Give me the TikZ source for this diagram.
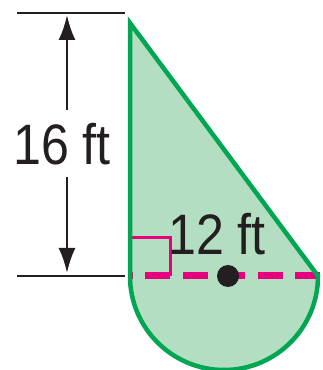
\documentclass[tikz,border=0pt]{standalone}
\usepackage{fontspec}
\setmainfont{Liberation Sans}
\usetikzlibrary{arrows.meta}
\definecolor{shapegreen}{RGB}{0,166,81}
\definecolor{shapefill}{RGB}{179,222,193}
\definecolor{markmag}{RGB}{230,0,126}
\definecolor{inkblack}{RGB}{35,31,32}
\begin{document}
\begin{tikzpicture}[x=1pt,y=1pt,
  dimline/.style={draw=inkblack,line width=2.5pt},
  dimarrow/.style={draw=inkblack,line width=2.5pt,-{Latex[length=25pt,width=17pt]}},
  lbl/.style={inner sep=0pt,anchor=base,text=inkblack,font=\fontsize{57}{57}\selectfont,xscale=0.88},
  outline/.style={draw=shapegreen,line width=4.5pt,line join=miter},
  rightmark/.style={draw=markmag,line width=3pt},
  dashline/.style={draw=markmag,line width=7pt,dash pattern=on 25pt off 12.5pt}
]
\useasboundingbox (0,0) rectangle (322,370);
% key points
\coordinate (apex) at (130,347);
\coordinate (baseL) at (130,94);
\coordinate (baseR) at (318,94);
\coordinate (ctr) at (224,94);
% filled shape
\fill[shapefill] (baseL) -- (apex) -- (baseR) arc[start angle=0,end angle=-180,radius=94] -- cycle;
% right-angle marker
\coordinate (ra1) at (131,132);
\coordinate (ra2) at (170,132);
\coordinate (ra3) at (170,94);
\draw[rightmark] (ra1) -- (ra2) -- (ra3);
% dashed diameter
\coordinate (dashR) at (320,94);
\coordinate (dashL) at (132,94);
\draw[dashline] (dashR) -- (dashL);
% centre dot
\node[circle,fill=inkblack,inner sep=0pt,minimum size=22pt] (dot) at (228,94) {};
% outline
\draw[outline] (baseL) -- (apex) -- (baseR) arc[start angle=0,end angle=-180,radius=94] -- cycle;
% dimension lines
\coordinate (t1) at (17,357);
\coordinate (t2) at (125,357);
\coordinate (b1) at (17,94);
\coordinate (b2) at (125,94);
\draw[dimline] (t1) -- (t2);
\draw[dimline] (b1) -- (b2);
% label 16 ft and arrows
\node[lbl] (h) at (62,205) {16 ft};
\coordinate (up0) at (67,260);
\coordinate (uptip) at (67,355);
\coordinate (dn0) at (67,193);
\coordinate (dntip) at (67,97);
\draw[dimarrow] (up0) -- (uptip);
\draw[dimarrow] (dn0) -- (dntip);
% label 12 ft
\node[lbl] (r) at (217,115) {12 ft};
\end{tikzpicture}
\end{document}
